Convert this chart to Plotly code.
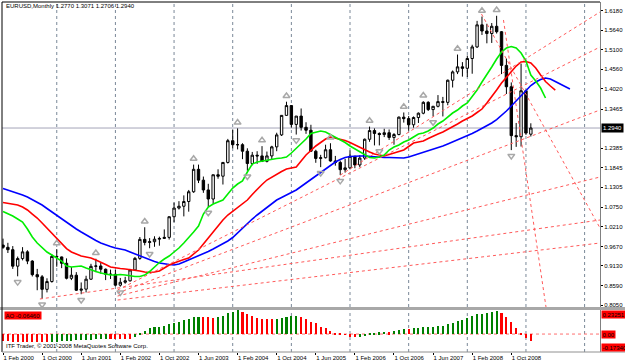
import plotly.graph_objects as go

# ---------------- data (EURUSD monthly, Feb 2000 .. Feb 2009) ----------------
opens = [0.9708,0.9646,0.9580,0.9125,0.9335,0.9520,0.9265,0.8890,0.8830,0.8485,
         0.8700,0.9395,0.9380,0.9205,0.8790,0.8875,0.8460,0.8490,0.8765,0.9120,
         0.9130,0.9040,0.8900,0.8900,0.8600,0.8680,0.8720,0.9020,0.9340,0.9865,
         0.9780,0.9800,0.9870,0.9890,0.9920,1.0490,1.0730,1.0780,1.0910,1.1180,
         1.1800,1.1500,1.1230,1.0980,1.1650,1.1610,1.1990,1.2590,1.2480,1.2480,
         1.2300,1.1960,1.2190,1.2170,1.2020,1.2170,1.2420,1.2750,1.3290,1.3560,
         1.3040,1.3270,1.2960,1.2880,1.2300,1.2100,1.2120,1.2340,1.2030,1.1990,
         1.1790,1.1840,1.2160,1.1920,1.2110,1.2630,1.2870,1.2790,1.2760,1.2810,
         1.2680,1.2760,1.3240,1.3200,1.3030,1.3230,1.3350,1.3650,1.3450,1.3540,
         1.3670,1.3650,1.4260,1.4490,1.4630,1.4590,1.4860,1.5180,1.5790,1.5620,
         1.5550,1.5750,1.5600,1.4670,1.4080,1.2730,1.2700,1.3970,1.2770]
highs = [0.9885,0.9770,0.9680,0.9390,0.9650,0.9565,0.9290,0.9050,0.8880,0.8790,
         0.9450,0.9595,0.9390,0.9340,0.9100,0.8960,0.8675,0.8860,0.9190,0.9330,
         0.9230,0.9060,0.9030,0.9020,0.8800,0.8830,0.9050,0.9380,0.9930,1.0200,
         0.9900,0.9950,0.9940,1.0140,1.0500,1.0880,1.0920,1.1080,1.1230,1.1930,
         1.1930,1.1600,1.1400,1.1650,1.1800,1.2000,1.2640,1.2900,1.2930,1.2520,
         1.2380,1.2280,1.2300,1.2440,1.2290,1.2450,1.2810,1.3300,1.3667,1.3570,
         1.3270,1.3480,1.3100,1.3030,1.2340,1.2200,1.2480,1.2520,1.2170,1.2040,
         1.2090,1.2320,1.2170,1.2190,1.2650,1.2980,1.2930,1.2820,1.2920,1.2900,
         1.2800,1.3260,1.3370,1.3270,1.3260,1.3370,1.3680,1.3680,1.3550,1.3850,
         1.3800,1.4280,1.4530,1.4970,1.4760,1.4940,1.5240,1.5900,1.6020,1.5820,
         1.5840,1.6040,1.5620,1.4860,1.4200,1.3080,1.4720,1.4000,1.3071]
lows = [0.9604,0.9488,0.9050,0.8845,0.9285,0.9180,0.8840,0.8460,0.8225,0.8400,
        0.8670,0.9110,0.9070,0.8760,0.8740,0.8440,0.8350,0.8400,0.8745,0.8960,
        0.8920,0.8740,0.8770,0.8570,0.8560,0.8640,0.8700,0.9000,0.9300,0.9700,
        0.9620,0.9660,0.9690,0.9880,0.9860,1.0340,1.0690,1.0500,1.0630,1.1150,
        1.1420,1.1150,1.0760,1.0850,1.1540,1.1380,1.1960,1.2380,1.2350,1.2080,
        1.1760,1.1910,1.1950,1.2000,1.1990,1.2070,1.2300,1.2720,1.3280,1.2950,
        1.2760,1.2870,1.2780,1.2290,1.1980,1.1860,1.2100,1.2010,1.1900,1.1640,
        1.1710,1.1800,1.1830,1.1860,1.2060,1.2560,1.2460,1.2460,1.2690,1.2610,
        1.2480,1.2740,1.3090,1.2870,1.2950,1.3080,1.3320,1.3410,1.3260,1.3510,
        1.3260,1.3570,1.4060,1.4430,1.4360,1.4350,1.4440,1.5150,1.5510,1.5280,
        1.5290,1.5550,1.4430,1.3880,1.2330,1.2420,1.2430,1.2750,1.2706]
closes = [0.9646,0.9580,0.9125,0.9335,0.9520,0.9265,0.8890,0.8830,0.8485,0.8700,
          0.9395,0.9380,0.9205,0.8790,0.8875,0.8460,0.8490,0.8765,0.9120,0.9130,
          0.9040,0.8900,0.8900,0.8600,0.8680,0.8720,0.9020,0.9340,0.9865,0.9780,
          0.9800,0.9870,0.9890,0.9920,1.0490,1.0730,1.0780,1.0910,1.1180,1.1800,
          1.1500,1.1230,1.0980,1.1650,1.1610,1.1990,1.2590,1.2480,1.2480,1.2300,
          1.1960,1.2190,1.2170,1.2020,1.2170,1.2420,1.2750,1.3290,1.3560,1.3040,
          1.3270,1.2960,1.2880,1.2300,1.2100,1.2120,1.2340,1.2030,1.1990,1.1790,
          1.1840,1.2160,1.1920,1.2110,1.2630,1.2870,1.2790,1.2760,1.2810,1.2680,
          1.2760,1.3240,1.3200,1.3030,1.3230,1.3350,1.3650,1.3450,1.3540,1.3670,
          1.3650,1.4260,1.4490,1.4630,1.4590,1.4860,1.5180,1.5790,1.5620,1.5550,
          1.5750,1.5600,1.4670,1.4080,1.2730,1.2700,1.3970,1.2800,1.2940]

# Alligator lines (jaw / teeth / lips, shifted forward)
jaw = [1.1270,1.1228,1.1187,1.1145,1.1090,1.1035,1.0966,1.0897,1.0814,1.0717,
       1.0621,1.0524,1.0427,1.0331,1.0234,1.0151,1.0068,0.9985,0.9902,0.9833,
       0.9764,0.9709,0.9668,0.9626,0.9599,0.9571,0.9516,0.9461,0.9405,0.9350,
       0.9295,0.9253,0.9212,0.9184,0.9171,0.9157,0.9184,0.9240,0.9295,0.9350,
       0.9405,0.9461,0.9530,0.9599,0.9668,0.9737,0.9820,0.9916,1.0041,1.0179,
       1.0317,1.0427,1.0538,1.0648,1.0759,1.0869,1.0952,1.1021,1.1090,1.1159,
       1.1228,1.1325,1.1421,1.1532,1.1629,1.1725,1.1822,1.1919,1.2001,1.2071,
       1.2126,1.2153,1.2167,1.2167,1.2167,1.2153,1.2140,1.2140,1.2126,1.2126,
       1.2126,1.2112,1.2112,1.2140,1.2181,1.2223,1.2278,1.2319,1.2361,1.2402,
       1.2443,1.2499,1.2554,1.2609,1.2664,1.2720,1.2789,1.2858,1.2927,1.2996,
       1.3079,1.3175,1.3286,1.3410,1.3548,1.3686,1.3824,1.3990,1.4115,1.4211,
       1.4280,1.4322,1.4294,1.4225,1.4156,1.4087,1.4018]
teeth = [1.0883,1.0855,1.0828,1.0814,1.0759,1.0676,1.0565,1.0455,1.0317,1.0179,
         1.0041,0.9889,0.9737,0.9612,0.9516,0.9461,0.9405,0.9378,0.9350,0.9295,
         0.9240,0.9171,0.9102,0.9074,0.9060,0.9046,0.9032,0.9005,0.8991,0.8963,
         0.8950,0.8963,0.8991,0.9074,0.9157,0.9212,0.9267,0.9309,0.9350,0.9461,
         0.9571,0.9737,0.9902,1.0082,1.0262,1.0400,1.0538,1.0648,1.0759,1.0855,
         1.0952,1.1104,1.1256,1.1380,1.1504,1.1587,1.1670,1.1739,1.1808,1.1836,
         1.1864,1.2029,1.2195,1.2319,1.2444,1.2540,1.2637,1.2692,1.2664,1.2637,
         1.2595,1.2540,1.2471,1.2402,1.2333,1.2278,1.2223,1.2195,1.2167,1.2209,
         1.2250,1.2292,1.2333,1.2430,1.2526,1.2554,1.2582,1.2651,1.2720,1.2775,
         1.2830,1.2899,1.2968,1.3051,1.3134,1.3203,1.3272,1.3369,1.3465,1.3631,
         1.3797,1.3990,1.4184,1.4349,1.4515,1.4653,1.4764,1.4777,1.4736,1.4598,
         1.4405,1.4225,1.4101,1.3990]
lips = [1.0634,1.0579,1.0510,1.0427,1.0344,1.0151,0.9930,0.9764,0.9626,0.9516,
        0.9433,0.9350,0.9267,0.9129,0.9102,0.9115,0.9129,0.9074,0.9019,0.8977,
        0.8936,0.8908,0.8880,0.8880,0.8894,0.8880,0.8853,0.8839,0.8839,0.8880,
        0.8977,0.9102,0.9226,0.9322,0.9405,0.9516,0.9626,0.9764,0.9902,1.0068,
        1.0234,1.0565,1.0759,1.0842,1.0897,1.0952,1.1118,1.1283,1.1394,1.1477,
        1.1725,1.1946,1.2001,1.2029,1.2043,1.2071,1.2098,1.2112,1.2140,1.2250,
        1.2374,1.2499,1.2637,1.2789,1.2830,1.2858,1.2830,1.2761,1.2678,1.2609,
        1.2540,1.2444,1.2361,1.2278,1.2195,1.2126,1.2112,1.2140,1.2195,1.2333,
        1.2416,1.2471,1.2554,1.2609,1.2692,1.2775,1.2803,1.2858,1.2941,1.3051,
        1.3134,1.3245,1.3355,1.3438,1.3548,1.3631,1.3797,1.3990,1.4211,1.4405,
        1.4626,1.4846,1.5040,1.5150,1.5192,1.5150,1.5012,1.4791,1.4405,1.4239,
        1.4045,1.3769]

# Awesome Oscillator values as read from the sub-window
ao = [-0.070,-0.071,-0.072,-0.073,-0.074,-0.075,-0.076,-0.077,-0.078,-0.079,
      -0.077,-0.074,-0.071,-0.068,-0.065,-0.062,-0.059,-0.056,-0.053,-0.050,
      -0.047,-0.044,-0.045,-0.046,-0.047,-0.048,-0.049,-0.030,0.006,0.029,
      0.055,0.064,0.071,0.080,0.093,0.103,0.119,0.135,0.145,0.161,
      0.167,0.166,0.164,0.158,0.164,0.177,0.200,0.216,0.2325,0.209,
      0.190,0.171,0.158,0.148,0.145,0.143,0.145,0.151,0.164,0.171,
      0.172,0.167,0.145,0.119,0.103,0.071,0.055,0.029,0.013,0.003,
      -0.003,-0.026,-0.032,-0.026,-0.016,0.003,0.010,0.016,0.023,0.019,
      0.029,0.039,0.048,0.045,0.055,0.061,0.064,0.065,0.066,0.077,
      0.080,0.093,0.106,0.126,0.138,0.158,0.177,0.190,0.196,0.206,
      0.216,0.225,0.200,0.167,0.113,0.055,0.006,-0.035,-0.0646]

fractal_up = [11, 19, 29, 39, 48, 53, 58, 67, 75, 82, 86, 93, 98, 101]
fractal_dn = [3, 8, 16, 24, 30, 42, 50, 60, 65, 69, 77, 88, 104]

# hand-drawn trend lines: (bar0, price0, bar1, price1)
trend_lines = [
    (7.55, 0.8218, 122.15, 1.0400),
    (23.45, 0.8300, 122.15, 1.1587),
    (23.45, 0.8383, 122.15, 1.3438),
    (23.45, 0.8466, 122.15, 1.5178),
    (23.45, 0.8190, 122.15, 0.9764),
    (69.0, 1.1640, 122.15, 1.6145),
    (97.9, 1.6090, 122.15, 1.0178),
    (102.4, 1.5924, 111.1, 0.7997),
]

tick_idx = [0, 8, 16, 24, 32, 40, 48, 56, 64, 72, 80, 88, 96, 104]
tick_txt = ["1 Feb 2000", "1 Oct 2000", "1 Jun 2001", "1 Feb 2002", "1 Oct 2002",
            "1 Jun 2003", "1 Feb 2004", "1 Oct 2004", "1 Jun 2005", "1 Feb 2006",
            "1 Oct 2006", "1 Jun 2007", "1 Feb 2008", "1 Oct 2008"]
year_grid = [11, 23, 35, 47, 59, 71, 83, 95, 107, 119]
price_ticks = [1.6180, 1.5640, 1.5100, 1.4560, 1.4020, 1.3465, 1.2385, 1.1845,
               1.1305, 1.0750, 1.0210, 0.9670, 0.9130, 0.8590, 0.8050]
bid = 1.2940
ao_max, ao_min = 0.23251, -0.17340

# ---------------- figure ----------------
FONT = "Liberation Sans"
FS = 6
bars = list(range(len(closes)))
fig = go.Figure()

fig.add_trace(go.Candlestick(
    x=bars, open=opens, high=highs, low=lows, close=closes,
    increasing=dict(line=dict(color="black", width=1), fillcolor="white"),
    decreasing=dict(line=dict(color="black", width=1), fillcolor="black"),
    whiskerwidth=0, showlegend=False, hoverinfo="skip", xaxis="x", yaxis="y"))

for vals, col in ((jaw, "#0000ff"), (teeth, "#ff0000"), (lips, "#00ee00")):
    fig.add_trace(go.Scatter(x=list(range(len(vals))), y=vals, mode="lines",
                             line=dict(color=col, width=1.6), showlegend=False,
                             hoverinfo="skip", xaxis="x", yaxis="y"))

for (a0, p0, a1, p1) in trend_lines:
    fig.add_trace(go.Scatter(x=[a0, a1], y=[p0, p1], mode="lines",
                             line=dict(color="#ff5a5a", width=1, dash="dot"),
                             showlegend=False, hoverinfo="skip", xaxis="x", yaxis="y"))

fig.add_trace(go.Scatter(x=fractal_up, y=[highs[i] + 0.016 for i in fractal_up],
                         mode="markers", marker=dict(symbol="triangle-up-open", size=6,
                         color="#a8a8a8", line=dict(width=1.5, color="#a8a8a8")),
                         showlegend=False, hoverinfo="skip", xaxis="x", yaxis="y"))
fig.add_trace(go.Scatter(x=fractal_dn, y=[lows[i] - 0.016 for i in fractal_dn],
                         mode="markers", marker=dict(symbol="triangle-down-open", size=6,
                         color="#a8a8a8", line=dict(width=1.5, color="#a8a8a8")),
                         showlegend=False, hoverinfo="skip", xaxis="x", yaxis="y"))

ao_cols = ["#ff0000" if (k > 0 and ao[k] < ao[k - 1]) else "#008000" for k in range(len(ao))]
ao_cols[0] = "#ff0000"
fig.add_trace(go.Bar(x=list(range(len(ao))), y=ao, marker=dict(color=ao_cols, line=dict(width=0)),
                     width=0.42, showlegend=False, hoverinfo="skip", xaxis="x2", yaxis="y2"))

XR = [-0.204, 122.15]
shapes = []
for g in year_grid:
    shapes.append(dict(type="line", xref="x", yref="y domain", x0=g, x1=g, y0=0, y1=1,
                       line=dict(color="#7a8898", width=1, dash="dot"), layer="below"))
    shapes.append(dict(type="line", xref="x2", yref="y2 domain", x0=g, x1=g, y0=0, y1=1,
                       line=dict(color="#7a8898", width=1, dash="dot"), layer="below"))
shapes.append(dict(type="line", xref="x domain", yref="y", x0=0, x1=1, y0=bid, y1=bid,
                   line=dict(color="#a4a4b8", width=1), layer="below"))
shapes.append(dict(type="line", xref="x2 domain", yref="y2", x0=0, x1=1, y0=0, y1=0,
                   line=dict(color="#ff7070", width=1, dash="dot"), layer="below"))
shapes.append(dict(type="rect", xref="paper", yref="paper", x0=-0.01, x1=1.05,
                   y0=0.12, y1=0.12857, fillcolor="#a8a8a8", line=dict(width=0)))
shapes.append(dict(type="line", xref="paper", yref="paper", x0=0, x1=0, y0=0, y1=1,
                   line=dict(color="black", width=1)))
shapes.append(dict(type="line", xref="paper", yref="paper", x0=0, x1=1, y0=1, y1=1,
                   line=dict(color="black", width=1)))
shapes.append(dict(type="line", xref="paper", yref="paper", x0=0, x1=1.05, y0=0, y1=0,
                   line=dict(color="#909090", width=1)))

ann = []
ann.append(dict(xref="paper", yref="paper", x=0.003, y=0.9886, xanchor="left", yanchor="middle",
                text="EURUSD,Monthly 1.2770 1.3071 1.2706 1.2940", showarrow=False,
                font=dict(family=FONT, size=FS, color="black")))
ann.append(dict(xref="paper", yref="y", x=1.0, y=bid, xanchor="left", yanchor="middle",
                text=f"{bid:.4f}", showarrow=False, bgcolor="black", borderpad=1,
                xshift=1, font=dict(family=FONT, size=FS, color="white")))
for val, anc in ((ao_max, "top"), (0.0, "middle"), (ao_min, "bottom")):
    txt = "0.00" if val == 0 else f"{val:.5f}"
    ann.append(dict(xref="paper", yref="y2", x=1.0, y=val, xanchor="left", yanchor=anc,
                    text=txt, showarrow=False, bgcolor="#ff0000", borderpad=0.5, xshift=1,
                    font=dict(family=FONT, size=FS, color="black")))
ann.append(dict(xref="paper", yref="y2", x=0.003, y=ao_max, xanchor="left", yanchor="top",
                text=f"AO {ao[-1]:.5f}", showarrow=False, bgcolor="#ff0000", borderpad=0.5,
                yshift=-1, font=dict(family=FONT, size=FS, color="black")))
ann.append(dict(xref="paper", yref="y2", x=0.003, y=ao_min, xanchor="left", yanchor="bottom",
                text="ITF Trader, \u00a9 2001-2008 MetaQuotes Software Corp.", showarrow=False,
                yshift=1, font=dict(family=FONT, size=FS, color="black")))

fig.update_layout(
    width=625, height=363, margin=dict(l=2, r=23, t=2, b=11),
    paper_bgcolor="white", plot_bgcolor="white", showlegend=False,
    bargap=0, font=dict(family=FONT, size=FS, color="black"),
    xaxis=dict(domain=[0, 1], range=XR, anchor="y", showticklabels=False, showgrid=False,
               zeroline=False, rangeslider=dict(visible=False), fixedrange=True),
    xaxis2=dict(domain=[0, 1], range=XR, anchor="y2", matches="x", showgrid=False, zeroline=False,
                tickmode="array", tickvals=tick_idx, ticktext=tick_txt, ticks="outside",
                ticklen=2, tickcolor="black", ticklabelposition="outside right", tickangle=0,
                tickfont=dict(family=FONT, size=FS, color="black")),
    yaxis=dict(domain=[0.12857, 1], range=[0.7997, 1.6421], side="right", anchor="x",
               tickmode="array", tickvals=price_ticks, ticktext=[f"{v:.4f}" for v in price_ticks],
               ticks="outside", ticklen=2, tickcolor="black", showgrid=False, zeroline=False,
               showline=True, linecolor="#808080", linewidth=1,
               tickfont=dict(family=FONT, size=FS, color="black")),
    yaxis2=dict(domain=[0, 0.12], range=[ao_min, ao_max], side="right", anchor="x2",
                showticklabels=False, showgrid=False, zeroline=False, ticks="",
                showline=True, linecolor="#808080", linewidth=1),
    shapes=shapes, annotations=ann,
)

fig.write_html("out.html")
